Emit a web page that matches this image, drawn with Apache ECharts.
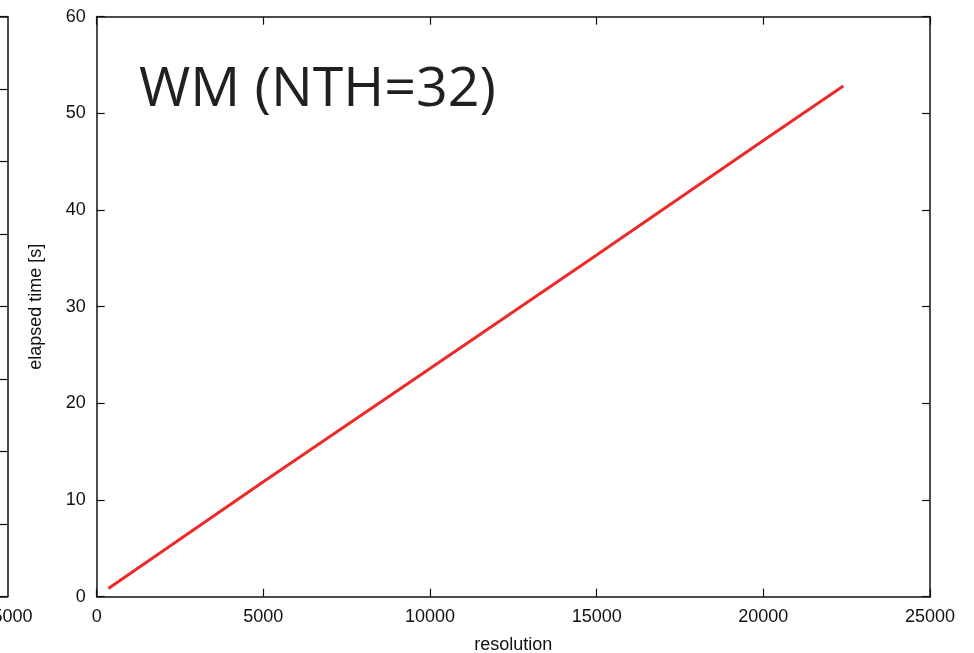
<!DOCTYPE html>
<html>
<head>
<meta charset="utf-8">
<script src="https://cdn.jsdelivr.net/npm/echarts@6/dist/echarts.min.js"></script>
<style>
html,body{margin:0;padding:0;background:#fff;}
#chart{width:974px;height:653px;}
</style>
</head>
<body>
<div id="chart"></div>
<script>
// Data
const resolution = [350, 5000, 10000, 15000, 20000, 22400];
const elapsedTime = [0.85, 11.9, 23.6, 35.35, 47.2, 52.83];
const xTicks = [0, 5000, 10000, 15000, 20000, 25000];
const yTicks = [0, 10, 20, 30, 40, 50, 60];
// neighbouring (cropped) panel on the left: only its right edge is visible
const leftPanelXTicks = [0, 25000];
const leftPanelYTicks = [0, 1, 2, 3, 4, 5, 6, 7, 8];
const titleText = 'WM (NTH=32)';
const xName = 'resolution';
const yName = 'elapsed time [s]';

const seriesData = resolution.map((r, i) => [r, elapsedTime[i]]);

const AX = '#111';
const FONT = '"Liberation Sans", Arial, Helvetica, sans-serif';
const labelStyle = {color: '#111', fontSize: 18, fontFamily: FONT, formatter: v => String(v)};

function mkAx(gridIndex, position, showLabel, ticks, extra) {
  return Object.assign({
    type: 'value', gridIndex, position,
    min: ticks[0], max: ticks[ticks.length - 1], interval: ticks[1] - ticks[0],
    axisLine: {show: true, onZero: false, lineStyle: {color: AX, width: 1.5}},
    axisTick: {show: true, inside: true, length: 8, lineStyle: {color: AX, width: 1.2}},
    axisLabel: Object.assign({show: showLabel, margin: 11}, labelStyle),
    splitLine: {show: false}
  }, extra || {});
}

const chart = echarts.init(document.getElementById('chart'), null, {renderer: 'canvas'});
chart.setOption({
  animation: false,
  backgroundColor: '#fff',
  title: {
    text: titleText, left: 134, top: 57,
    textStyle: {fontFamily: '"Open Sans", sans-serif', fontWeight: 'normal', fontSize: 55.5, color: '#231f20'}
  },
  grid: [
    {left: 96.7, right: 44, top: 16.7, bottom: 56.3, containLabel: false, outerBoundsMode: 'none'},
    {left: 0, width: 7.5, top: 16.7, bottom: 56.3, containLabel: false, outerBoundsMode: 'none'}
  ],
  xAxis: [
    mkAx(0, 'bottom', true, xTicks, {
      name: xName, nameLocation: 'middle', nameGap: 39,
      nameTextStyle: {color: '#111', fontSize: 18, fontFamily: FONT}
    }),
    mkAx(0, 'top', false, xTicks),
    mkAx(1, 'bottom', true, leftPanelXTicks, {
      axisTick: {show: false},
      axisLabel: Object.assign({show: true, margin: 11, showMinLabel: false}, labelStyle)
    }),
    mkAx(1, 'top', false, leftPanelXTicks, {axisTick: {show: false}})
  ],
  yAxis: [
    mkAx(0, 'left', true, yTicks, {
      name: yName, nameLocation: 'middle', nameGap: 52,
      nameTextStyle: {color: '#111', fontSize: 18, fontFamily: FONT}
    }),
    mkAx(0, 'right', false, yTicks),
    mkAx(1, 'right', false, leftPanelYTicks)
  ],
  series: [{
    type: 'line',
    xAxisIndex: 0, yAxisIndex: 0,
    data: seriesData,
    showSymbol: false,
    symbol: 'none',
    lineStyle: {color: '#ec2a2a', width: 3},
    z: 3
  }]
});
</script>
</body>
</html>
